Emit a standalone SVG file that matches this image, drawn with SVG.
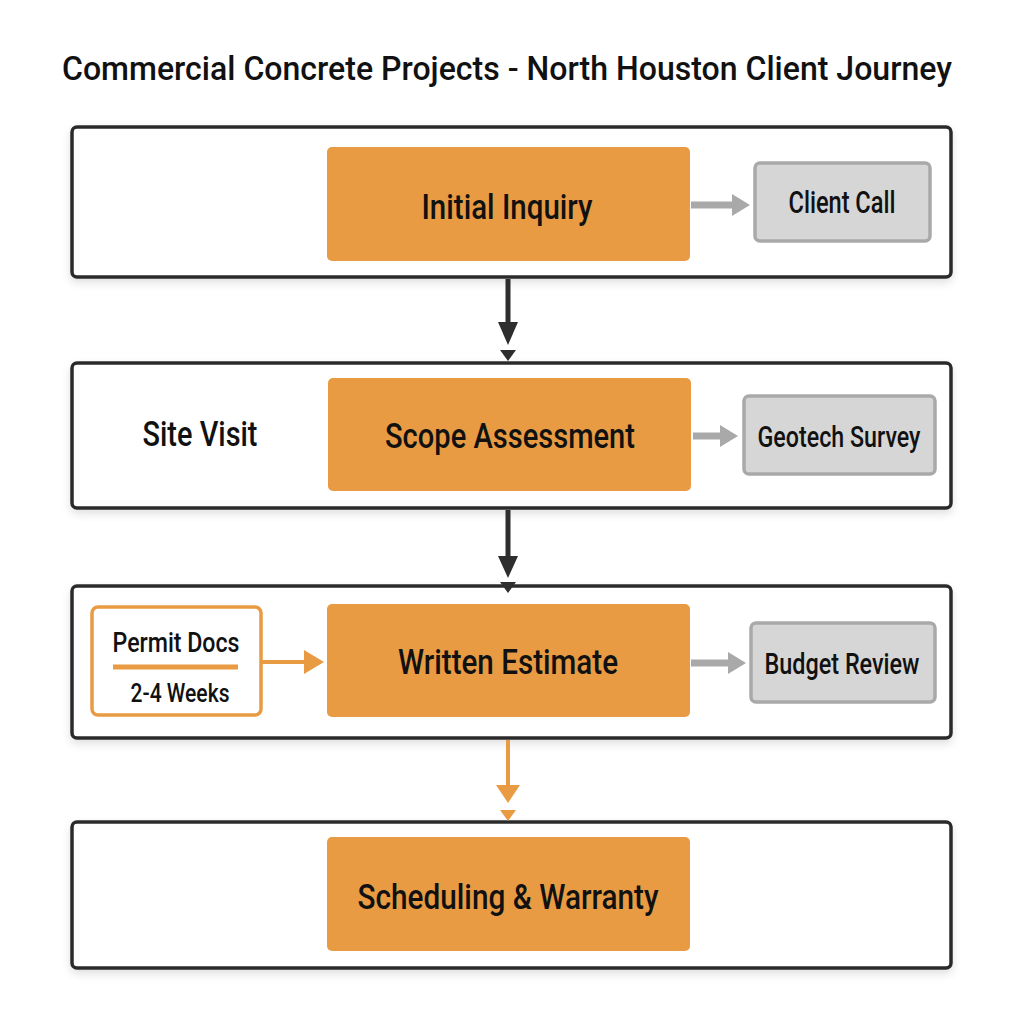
<svg xmlns="http://www.w3.org/2000/svg" width="1024" height="1024" viewBox="0 0 1024 1024">
<style>
text{font-family:Roboto,"Liberation Sans",sans-serif;fill:#111;text-anchor:middle;dominant-baseline:central;font-weight:500}
.frame{fill:#fff;stroke:#2b2b2b;stroke-width:3.5}
.main{fill:#E89B42}
.side{fill:#d6d6d6;stroke:#a9a9a9;stroke-width:3.5}
.permit{fill:#fff;stroke:#E89B42;stroke-width:3.5}
.dark{stroke:#2e2e2e;stroke-width:5;fill:none}
.gray{stroke:#a9a9a9;stroke-width:7;fill:none}
.orange{stroke:#E89B42;stroke-width:4;fill:none}
</style>
<defs>
<filter id="sh" x="-5%" y="-10%" width="110%" height="130%">
<feDropShadow dx="0" dy="4" stdDeviation="4" flood-color="#000" flood-opacity="0.12"/>
</filter>
</defs>
<rect width="1024" height="1024" fill="#fff"/>
<text x="507" y="68" font-size="34" textLength="890" lengthAdjust="spacingAndGlyphs">Commercial Concrete Projects - North Houston Client Journey</text>

<g id="stage1">
<rect class="frame" x="72" y="127" width="879" height="150" rx="5" filter="url(#sh)"/>
</g>
<g id="stage2">
<rect class="frame" x="72" y="363" width="879" height="145" rx="5" filter="url(#sh)"/>
</g>
<g id="stage3">
<rect class="frame" x="72" y="586" width="879" height="152" rx="5" filter="url(#sh)"/>
</g>
<g id="stage4">
<rect class="frame" x="72" y="822" width="879" height="146" rx="5" filter="url(#sh)"/>
</g>

<g id="connectors">
<line class="dark" x1="508" y1="279" x2="508" y2="326"/>
<polygon points="498,322 518,322 508,345" fill="#2e2e2e"/>
<polygon points="500,350 516,350 508,361" fill="#2e2e2e"/>
<line class="dark" x1="508" y1="510" x2="508" y2="560"/>
<polygon points="498,556 518,556 508,578" fill="#2e2e2e"/>
<polygon points="500,582 516,582 508,593" fill="#2e2e2e"/>
<line class="orange" x1="508" y1="740" x2="508" y2="790"/>
<polygon points="496,785 520,785 508,803" fill="#E89B42"/>
<polygon points="500,810 516,810 508,821" fill="#E89B42"/>
<line class="gray" x1="691" y1="205" x2="734" y2="205"/>
<polygon points="732,194 750,205 732,216" fill="#a9a9a9"/>
<line class="gray" x1="693" y1="436" x2="722" y2="436"/>
<polygon points="720,425 738,436 720,447" fill="#a9a9a9"/>
<line class="gray" x1="691" y1="663" x2="730" y2="663"/>
<polygon points="728,652 746,663 728,674" fill="#a9a9a9"/>
<line class="orange" x1="262" y1="662" x2="308" y2="662" stroke-width="4"/>
<polygon points="304,650 324,662 304,674" fill="#E89B42"/>
</g>

<g id="initial-inquiry">
<rect class="main" x="327" y="147" width="363" height="114" rx="5"/>
<text x="507" y="207" font-size="35" textLength="171" lengthAdjust="spacingAndGlyphs">Initial Inquiry</text>
</g>
<g id="client-call">
<rect class="side" x="755" y="163" width="175" height="78" rx="5"/>
<text x="842" y="202" font-size="31" textLength="107" lengthAdjust="spacingAndGlyphs">Client Call</text>
</g>
<g id="site-visit">
<text x="200" y="434" font-size="35" textLength="115" lengthAdjust="spacingAndGlyphs">Site Visit</text>
</g>
<g id="scope-assessment">
<rect class="main" x="328" y="378" width="363" height="113" rx="5"/>
<text x="510" y="436" font-size="35" textLength="250" lengthAdjust="spacingAndGlyphs">Scope Assessment</text>
</g>
<g id="geotech-survey">
<rect class="side" x="744" y="396" width="191" height="78" rx="5"/>
<text x="839" y="436" font-size="30" textLength="163" lengthAdjust="spacingAndGlyphs">Geotech Survey</text>
</g>
<g id="permit-docs">
<rect class="permit" x="92" y="607" width="169" height="108" rx="6"/>
<text x="176" y="642" font-size="28" textLength="127" lengthAdjust="spacingAndGlyphs">Permit Docs</text>
<line x1="113" y1="667" x2="238" y2="667" stroke="#E89B42" stroke-width="5"/>
<text x="180" y="693" font-size="25" textLength="99" lengthAdjust="spacingAndGlyphs">2-4 Weeks</text>
</g>
<g id="written-estimate">
<rect class="main" x="327" y="604" width="363" height="113" rx="5"/>
<text x="508" y="662" font-size="35" textLength="220" lengthAdjust="spacingAndGlyphs">Written Estimate</text>
</g>
<g id="budget-review">
<rect class="side" x="751" y="623" width="184" height="79" rx="5"/>
<text x="842" y="663" font-size="30" textLength="155" lengthAdjust="spacingAndGlyphs">Budget Review</text>
</g>
<g id="scheduling-warranty">
<rect class="main" x="327" y="837" width="363" height="114" rx="5"/>
<text x="508" y="897" font-size="35" textLength="301" lengthAdjust="spacingAndGlyphs">Scheduling &amp; Warranty</text>
</g>
</svg>
